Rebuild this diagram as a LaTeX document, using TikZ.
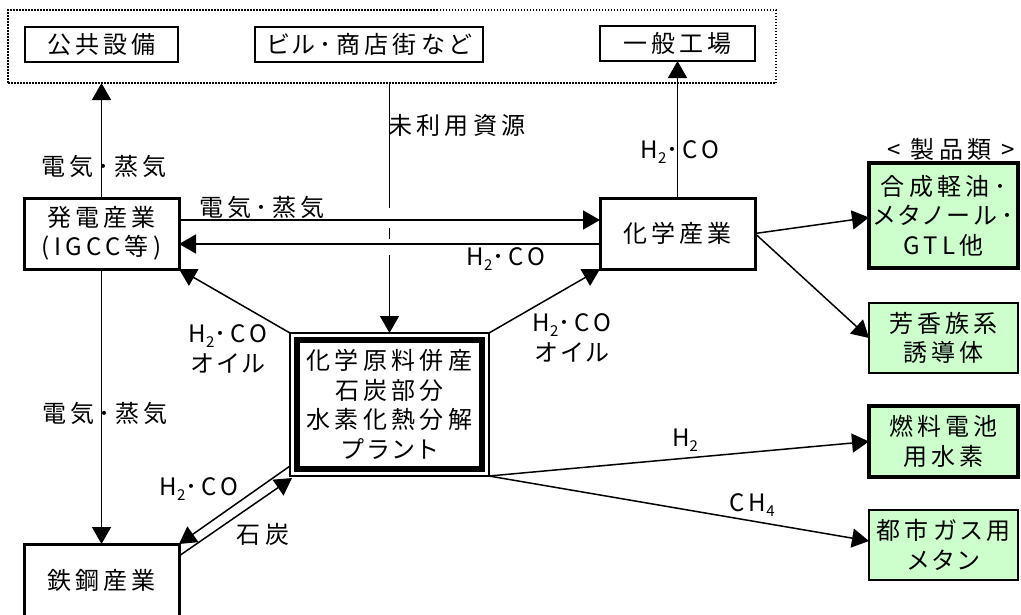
\documentclass[tikz,border=0pt]{standalone}
\usepackage{fontspec}
\setmainfont{Noto Sans CJK JP}[LetterSpace=18,RawFeature=+palt]
\usetikzlibrary{arrows.meta,calc}
\definecolor{pale}{RGB}{204,255,204}
\newcommand\sbt[1]{\raisebox{-0.35ex}{\fontsize{15}{15}\selectfont #1}}
\begin{document}
\begin{tikzpicture}[x=1pt,y=-1pt,
  every node/.style={inner sep=0pt,outer sep=0pt,font=\fontsize{24}{29.5}\selectfont,align=center},
  topbox/.style={draw,line width=2pt,minimum height=35pt},
  indbox/.style={draw,line width=3pt,fill=white,minimum width=155pt,minimum height=71pt},
  prodbox/.style={draw,fill=pale,line width=2pt,minimum width=149pt,minimum height=70pt},
  prodthick/.style={prodbox,line width=3.5pt},
  arr/.style={line width=1.5pt,-{Triangle[length=17pt,width=19pt]}}
]
\useasboundingbox (0,0) rectangle (1021,614);
% area of consumers
\node[draw,line width=2pt,dash pattern=on 1.5pt off 1.5pt,minimum width=768pt,minimum height=73pt] (area) at (392,46.5) {};
\node[topbox,minimum width=153pt] (kokyo) at (101.5,44.5) {公共設備};
\node[topbox,minimum width=228pt] (biru) at (369,44.5) {ビル･商店街など};
\node[topbox,minimum width=155pt] (ippan) at (677.5,43.5) {一般工場};
% industries
\node[indbox] (hatsu) at (101.5,233.5) {発電産業\\(IGCC等)};
\node[indbox] (kagaku) at (677.5,233.5) {化学産業};
\node[indbox,minimum height=72pt] (tekko) at (101.5,580) {鉄鋼産業};
% plant
\node[draw,line width=1.2pt,minimum width=199pt,minimum height=143pt] (plant) at (389.5,404.5) {化学原料併産\\石炭部分\\水素化熱分解\\プラント};
\draw[line width=6pt] ($(plant.north west)+(7,7)$) rectangle ($(plant.south east)+(-7,-7)$);
% products
\node[prodthick,minimum height=105pt] (g1) at (943.5,215.5) {合成軽油･\\メタノール･\\GTL他};
\node[prodbox] (g2) at (943.5,338) {芳香族系\\誘導体};
\node[prodthick,minimum height=71pt] (g3) at (943.5,441.5) {燃料電池\\用水素};
\node[prodbox] (g4) at (943.5,545) {都市ガス用\\メタン};
\node (seihin) at (951,149) {< 製品類 >};
% connectors
\coordinate (yU) at (0,220);
\coordinate (yL) at (0,244);
\draw[arr] (hatsu.north) -- (hatsu.north |- area.south);
\draw[arr] (plant.north |- area.south) -- (plant.north);
\draw[white,line width=4pt] ($(plant.north |- yU)+(0,-12)$) -- ($(plant.north |- yU)+(0,8)$)
  ($(plant.north |- yL)+(0,-5)$) -- ($(plant.north |- yL)+(0,11)$);
\draw[arr] (kagaku.north) -- (ippan.south);
\draw[arr] (hatsu.east |- yU) -- (kagaku.west |- yU);
\draw[arr] (kagaku.west |- yL) -- (hatsu.east |- yL);
\draw[arr] (plant.north west) -- (hatsu.south east);
\draw[arr] (plant.north east) -- (kagaku.south west);
\draw[arr] (hatsu.south) -- (tekko.north);
\draw[arr] ($(plant.south west)+(0,-10)$) -- (tekko.north east);
\draw[arr] ($(tekko.north east)+(0,12)$) -- ($(plant.south west)+(2,2)$);
\draw[arr] (kagaku.east) -- ($(g1.west)+(0,2)$);
\draw[arr] (kagaku.east) -- (g2.west);
\draw[arr] (plant.south east) -- (g3.west);
\draw[arr] (plant.south east) -- ($(g4.west)+(0,-4)$);
% labels
\node (l1) at (104,166) {電気･蒸気};
\node (l2) at (262,207) {電気･蒸気};
\node (l3) at (457,125) {未利用資源};
\node (l4) at (680,152) {H\sbt{2}･CO};
\node (l5) at (506,259) {H\sbt{2}･CO};
\node (l6) at (228,349) {H\sbt{2}･CO\\オイル};
\node (l7) at (572,338) {H\sbt{2}･CO\\オイル};
\node (l8) at (105,413) {電気･蒸気};
\node (l9) at (199,489) {H\sbt{2}･CO};
\node (l10) at (263,534) {石炭};
\node (l11) at (685,440) {H\sbt{2}};
\node (l12) at (752,505) {CH\sbt{4}};
\end{tikzpicture}
\end{document}
